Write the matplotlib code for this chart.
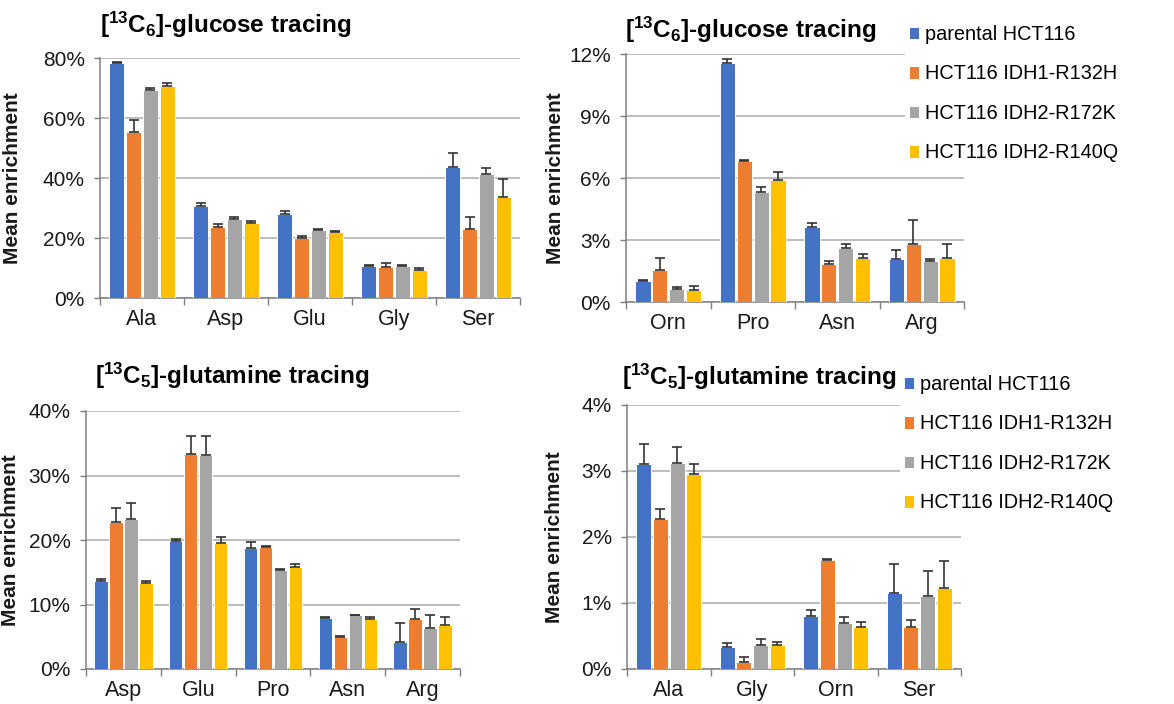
import matplotlib
matplotlib.use('Agg')
import matplotlib.pyplot as plt
import numpy as np
from matplotlib.ticker import PercentFormatter, MultipleLocator, FixedLocator, NullFormatter

plt.rcParams['font.family'] = ['Liberation Sans', 'DejaVu Sans']
plt.rcParams['mathtext.fontset'] = 'custom'
plt.rcParams['mathtext.rm'] = 'Liberation Sans:bold'
plt.rcParams['mathtext.it'] = 'Liberation Sans:bold'
plt.rcParams['mathtext.bf'] = 'Liberation Sans:bold'
plt.rcParams['mathtext.default'] = 'rm'

cell_lines = ['parental HCT116', 'HCT116 IDH1-R132H', 'HCT116 IDH2-R172K', 'HCT116 IDH2-R140Q']
colors = ['#4472C4', '#ED7D31', '#A5A5A5', '#FFC000']

# glucose tracing, panel A
glc_aa_1 = ['Ala', 'Asp', 'Glu', 'Gly', 'Ser']
glc_mean_1 = [
    [78.3, 30.8, 28.1, 10.8, 43.6],
    [55.2, 23.6, 20.0, 10.3, 22.9],
    [69.4, 26.4, 22.7, 10.8, 41.4],
    [70.6, 25.0, 22.0, 9.5, 33.7],
]
glc_err_1 = [
    [0.5, 0.8, 1.0, 0.3, 4.9],
    [4.0, 1.0, 0.6, 1.3, 4.1],
    [0.7, 0.5, 0.4, 0.3, 1.9],
    [1.2, 0.8, 0.4, 0.4, 5.9],
]

# glucose tracing, panel B
glc_aa_2 = ['Orn', 'Pro', 'Asn', 'Arg']
glc_mean_2 = [
    [1.01, 11.55, 3.64, 2.06],
    [1.56, 6.83, 1.82, 2.79],
    [0.63, 5.33, 2.59, 2.00],
    [0.58, 5.89, 2.13, 2.13],
]
glc_err_2 = [
    [0.07, 0.21, 0.16, 0.47],
    [0.58, 0.06, 0.16, 1.20],
    [0.11, 0.24, 0.23, 0.10],
    [0.19, 0.40, 0.20, 0.69],
]

# glutamine tracing, panel C
gln_aa_1 = ['Asp', 'Glu', 'Pro', 'Asn', 'Arg']
gln_mean_1 = [
    [13.7, 19.9, 18.7, 7.9, 4.2],
    [22.8, 33.3, 18.9, 4.9, 7.75],
    [23.2, 33.2, 15.4, 8.3, 6.3],
    [13.3, 19.6, 15.8, 7.75, 6.8],
]
gln_err_1 = [
    [0.3, 0.3, 1.0, 0.2, 3.0],
    [2.2, 2.9, 0.2, 0.2, 1.5],
    [2.6, 2.9, 0.05, 0.05, 2.0],
    [0.4, 0.8, 0.45, 0.25, 1.2],
]

# glutamine tracing, panel D
gln_aa_2 = ['Ala', 'Gly', 'Orn', 'Ser']
gln_mean_2 = [
    [3.11, 0.34, 0.80, 1.15],
    [2.27, 0.11, 1.65, 0.63],
    [3.12, 0.36, 0.69, 1.11],
    [2.96, 0.36, 0.64, 1.22],
]
gln_err_2 = [
    [0.30, 0.055, 0.10, 0.44],
    [0.15, 0.07, 0.01, 0.12],
    [0.25, 0.10, 0.10, 0.37],
    [0.15, 0.05, 0.065, 0.41],
]

W, H = 1174, 704
fig = plt.figure(figsize=(W / 100, H / 100), dpi=100)


def px_axes(x0, x1, ytop, ybot):
    return fig.add_axes([x0 / W, 1 - ybot / H, (x1 - x0) / W, (ybot - ytop) / H])


def draw_panel(ax, cats, means, errs, ymax, ystep, ylab_x):
    x = np.arange(len(cats))
    bars = []
    for i in range(4):
        pos = x + (i - 1.5) * 0.2
        m = np.array(means[i])
        e = np.array(errs[i])
        b = ax.bar(pos, m, width=0.18, color=colors[i], edgecolor='white',
                   linewidth=0.7, zorder=3, label=cell_lines[i])
        ax.errorbar(pos, m, yerr=[np.zeros_like(e), e], fmt='none',
                    ecolor='#333333', elinewidth=1.2, capsize=3.5, capthick=1.2, zorder=4)
        bars.append(b)
    ax.set_xlim(-0.5, len(cats) - 0.5)
    ax.set_ylim(0, ymax)
    ax.yaxis.set_major_locator(MultipleLocator(ystep))
    ax.yaxis.set_major_formatter(PercentFormatter(xmax=100, decimals=0))
    ax.yaxis.grid(True, color='#ABABAB', linewidth=1.1, zorder=0)
    ax.set_axisbelow(True)
    # boundary ticks, labels at centers
    ax.xaxis.set_major_locator(FixedLocator(np.arange(len(cats) + 1) - 0.5))
    ax.xaxis.set_major_formatter(NullFormatter())
    ax.xaxis.set_minor_locator(FixedLocator(x))
    ax.set_xticklabels(cats, minor=True)
    ax.tick_params(axis='x', which='major', length=5, width=1, color='#7F7F7F')
    ax.tick_params(axis='x', which='minor', length=0, pad=8, labelsize=15.5, labelcolor='#1A1A1A')
    ax.tick_params(axis='y', length=4, width=1, color='#7F7F7F', pad=7,
                   labelsize=15, labelcolor='#1A1A1A')
    for s in ['top', 'right']:
        ax.spines[s].set_visible(False)
    for s in ['left', 'bottom']:
        ax.spines[s].set_color('#7F7F7F')
        ax.spines[s].set_linewidth(1.1)
    ax.set_ylabel('Mean enrichment', fontsize=15, fontweight='bold', color='#1A1A1A')
    ax.yaxis.set_label_coords(ylab_x, 0.5)
    return bars


ax1 = px_axes(100, 520, 58, 298)
draw_panel(ax1, glc_aa_1, glc_mean_1, glc_err_1, 80, 20, -0.186)

ax2 = px_axes(626, 964, 54, 302)
bars2 = draw_panel(ax2, glc_aa_2, glc_mean_2, glc_err_2, 12, 3, -0.18)

ax3 = px_axes(86, 460, 411, 669)
draw_panel(ax3, gln_aa_1, gln_mean_1, gln_err_1, 40, 10, -0.176)

ax4 = px_axes(627, 961, 405, 669)
bars4 = draw_panel(ax4, gln_aa_2, gln_mean_2, gln_err_2, 4, 1, -0.19)

title_kw = dict(fontsize=17.5, fontweight='bold', color='#000000', va='center', ha='left')
fig.text(100 / W, 1 - 25 / H, r'[$^{13}$C$_{6}$]-glucose tracing', **title_kw)
fig.text(625 / W, 1 - 30 / H, r'[$^{13}$C$_{6}$]-glucose tracing', **title_kw)
fig.text(95 / W, 1 - 376 / H, r'[$^{13}$C$_{5}$]-glutamine tracing', **title_kw)
fig.text(622 / W, 1 - 377 / H, r'[$^{13}$C$_{5}$]-glutamine tracing', **title_kw)

leg_kw = dict(loc='upper left', fontsize=14.3, frameon=True, fancybox=False,
              edgecolor='none', facecolor='white', framealpha=1,
              handlelength=0.52, handleheight=0.58, handletextpad=0.28,
              labelspacing=1.03, borderpad=0.2, borderaxespad=0)
fig.legend(bars2, cell_lines, bbox_to_anchor=(905 / W, 1 - 21 / H), **leg_kw)
fig.legend(bars4, cell_lines, bbox_to_anchor=(900 / W, 1 - 371 / H), **leg_kw)

fig.savefig('out.png', dpi=100)
